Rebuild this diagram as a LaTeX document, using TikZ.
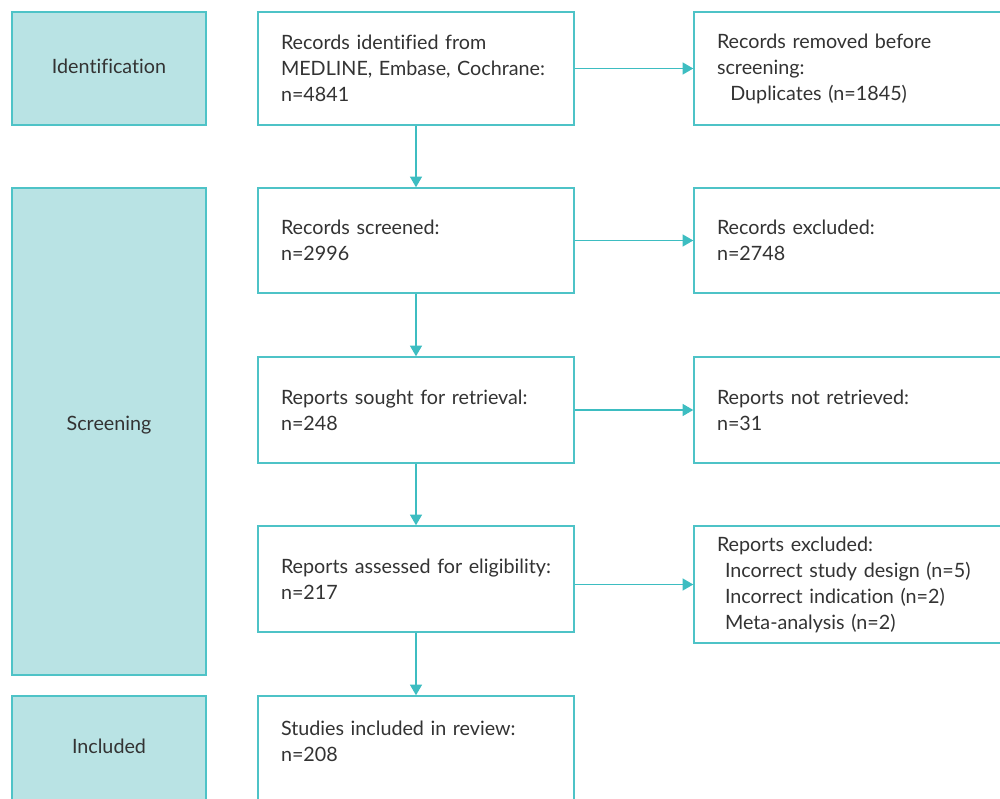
\documentclass[tikz,border=0pt]{standalone}
\usepackage{fontspec}
\setmainfont{Lato}[Ligatures=NoCommon]
\usetikzlibrary{arrows.meta}
\definecolor{tealfill}{HTML}{B9E3E4}
\definecolor{tealline}{HTML}{4EC3C7}
\definecolor{arrowcol}{HTML}{3DBDC1}
\definecolor{txt}{HTML}{333333}
\begin{document}
\begin{tikzpicture}[x=0.75pt,y=-0.75pt,
  every node/.style={font=\fontsize{14.8pt}{19.5pt}\selectfont, text=txt},
  phasebox/.style={draw=tealline, line width=1.1pt, fill=tealfill, minimum width=145.5pt, align=center, inner sep=0pt},
  flowbox/.style={draw=tealline, line width=1.1pt, fill=white, minimum width=237pt, text width=202.5pt, inner xsep=17.25pt, inner ysep=0pt, align=left},
  flowarrow/.style={draw=arrowcol, line width=1.1pt, -{Triangle[length=8pt,width=9pt]}}
]
\useasboundingbox (0,0) rectangle (1000,799);
\clip (0,0) rectangle (1000,799);
% phases
\node[phasebox, minimum height=84.75pt, text depth=3.5pt] (ident) at (109,68.5) {Identification};
\node[phasebox, minimum height=365.25pt, text depth=13pt] (screen) at (109,431.5) {Screening};
\node[phasebox, minimum height=87pt, text depth=12pt] (incl) at (109,754) {Included};
% middle column
\node[flowbox, minimum height=84.75pt] (m1) at (416,68.5) {Records identified from\\\mbox{MEDLINE, Embase, Cochrane:}\\n=4841};
\node[flowbox, minimum height=78.75pt] (m2) at (416,240.5) {Records screened:\\n=2996};
\node[flowbox, minimum height=79.5pt] (m3) at (416,410) {\mbox{Reports sought for retrieval:}\\n=248};
\node[flowbox, minimum height=79.5pt] (m4) at (416,579) {\mbox{Reports assessed for eligibility:}\\n=217};
\node[flowbox, minimum height=87pt] (m5) at (416,754) {\mbox{Studies included in review:}\\n=208\\\mbox{}};
% right column
\node[flowbox, minimum height=84.75pt] (r1) at (852,68.5) {Records removed before\\screening:\\\hspace*{10pt}\mbox{Duplicates (n=1845)}};
\node[flowbox, minimum height=78.75pt] (r2) at (852,240.5) {Records excluded:\\n=2748};
\node[flowbox, minimum height=79.5pt] (r3) at (852,410) {Reports not retrieved:\\n=31};
\node[flowbox, minimum height=87.75pt] (r4) at (852,584.5) {Reports excluded:\\\hspace*{6pt}\mbox{Incorrect study design (n=5)}\\\hspace*{6pt}\mbox{Incorrect indication (n=2)}\\\hspace*{6pt}\mbox{Meta-analysis (n=2)}};
% arrows
\draw[flowarrow] (m1) -- (m2);
\draw[flowarrow] (m2) -- (m3);
\draw[flowarrow] (m3) -- (m4);
\draw[flowarrow] (m4) -- (m5);
\draw[flowarrow] (m1.east) -- (r1.west);
\draw[flowarrow] (m2.east) -- (r2.west);
\draw[flowarrow] (m3.east) -- (r3.west);
\draw[flowarrow] (m4.east |- r4.west) -- (r4.west);
\end{tikzpicture}
\end{document}
